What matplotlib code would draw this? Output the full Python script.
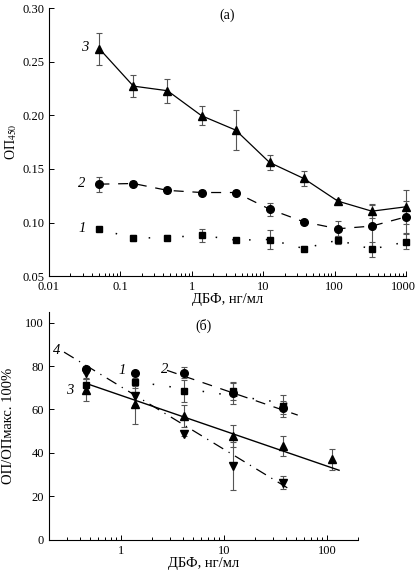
import numpy as np
import matplotlib
matplotlib.use('Agg')
import matplotlib.pyplot as plt
import matplotlib.transforms as mtransforms
from matplotlib.ticker import LogLocator, FixedLocator, FuncFormatter, NullFormatter

plt.rcParams['font.family'] = ['Liberation Serif', 'DejaVu Serif']
plt.rcParams['mathtext.fontset'] = 'stix'
plt.rcParams['font.size'] = 9

# --- панель (а): ОП450 ---
konc_a = [0.0508, 0.152, 0.457, 1.37, 4.12, 12.3, 37, 111, 333, 1000]
op_1 = [0.0938, 0.0855, 0.086, 0.0882, 0.0836, 0.0842, 0.0758, 0.0836, 0.0752, 0.082]
err_1 = [0.002, 0.003, 0.002, 0.006, 0.002, 0.009, 0.002, 0.004, 0.007, 0.007]
op_2 = [0.1358, 0.1364, 0.130, 0.128, 0.128, 0.1125, 0.1007, 0.0942, 0.0967, 0.1053]
err_2 = [0.007, 0.002, 0.002, 0.002, 0.002, 0.006, 0.002, 0.007, 0.021, 0.015]
op_3 = [0.262, 0.2272, 0.2229, 0.1996, 0.1862, 0.156, 0.1411, 0.120, 0.1106, 0.1147]
err_3 = [0.015, 0.010, 0.011, 0.009, 0.019, 0.007, 0.007, 0.002, 0.006, 0.016]

# --- панель (б): ОП/ОПмакс ---
konc_b = [0.457, 1.37, 4.12, 12.3, 37, 111]
proc_1 = [71.2, 72.7, 68.5, 68.4, 61.6]
perr_1 = [3, 2, 5, 4, 5]
proc_2 = [78.4, 77, 77, 67.6, 60.7]
perr_2 = [1.5, 0.5, 2.7, 5, 3]
proc_3 = [68.9, 62.4, 57, 47.8, 43.1, 37]
perr_3 = [5, 9, 5, 5, 4.5, 5]
proc_4 = [76.7, 66, 48.6, 33.9, 26.2]
perr_4 = [2, 4, 1, 11, 3]

# линии регрессии (концы)
fit_x1, fit_y1 = [1.4, 45], [72.7, 62.5]
fit_x2, fit_y2 = [2.8, 52], [78, 57.4]
fit_x3, fit_y3 = [0.457, 131], [72, 32]
fit_x4, fit_y4 = [0.28, 44.7], [86.4, 22.9]

ecol = '#555555'
fig = plt.figure(figsize=(4.17, 5.73), dpi=100)
ax1 = fig.add_axes([0.1175, 0.518, 0.856, 0.468])
ax2 = fig.add_axes([0.1175, 0.058, 0.741, 0.398])


def styl_os(ax):
    ax.spines['top'].set_visible(False)
    ax.spines['right'].set_visible(False)
    ax.tick_params(which='both', direction='in', width=0.7, labelsize=9)
    ax.tick_params(which='major', length=3.5)
    ax.tick_params(which='minor', length=2)
    for s in ('left', 'bottom'):
        ax.spines[s].set_linewidth(0.8)


def err_kw():
    return dict(ecolor=ecol, elinewidth=0.8, capsize=2.5, capthick=0.8, clip_on=False)


# (а)
ax1.errorbar(konc_a, op_1, yerr=err_1, fmt='s', color='black', ms=5, **err_kw())
ax1.plot(konc_a, op_1, color='black', lw=1.1, ls=(0, (1, 10)))
ax1.errorbar(konc_a, op_2, yerr=err_2, fmt='o', color='black', ms=5.5, **err_kw())
ax1.plot(konc_a, op_2, color='black', lw=0.9, ls=(0, (8, 7)))
ax1.errorbar(konc_a, op_3, yerr=err_3, fmt='^', color='black', ms=6, **err_kw())
ax1.plot(konc_a, op_3, color='black', lw=0.9)

ax1.set_xscale('log')
ax1.set_xlim(0.01, 1000)
ax1.set_ylim(0.05, 0.30)
ax1.set_yticks([0.05, 0.10, 0.15, 0.20, 0.25, 0.30])
ax1.yaxis.set_major_formatter(FuncFormatter(lambda v, p: f'{v:.2f}'))
ax1.xaxis.set_major_locator(LogLocator(base=10))
ax1.xaxis.set_minor_locator(LogLocator(base=10, subs=np.arange(2, 10)))
ax1.xaxis.set_major_formatter(FuncFormatter(lambda v, p: f'{v:g}'))
ax1.xaxis.set_minor_formatter(NullFormatter())
styl_os(ax1)
ax1.set_xlabel('ДБФ, нг/мл', fontsize=10.5, labelpad=0)
ax1.set_ylabel('ОП$_{450}$', fontsize=10)
ax1.yaxis.set_label_coords(-0.085, 0.5)
ax1.text(0.5, 1.0, '(а)', transform=ax1.transAxes, ha='center', va='top', fontsize=10)
for t, xx, yy in [('3', 0.032, 0.263), ('2', 0.029, 0.136), ('1', 0.029, 0.094)]:
    ax1.text(xx, yy, t, style='italic', fontsize=10.5, ha='center', va='center')

# подпись 1000 у самого края — чуть сдвинуть влево
fig.canvas.draw()
sdvig = mtransforms.ScaledTranslation(-3 / 100, 0, fig.dpi_scale_trans)
for t in ax1.get_xticklabels():
    if t.get_text() == '1000':
        t.set_transform(t.get_transform() + sdvig)

# (б)
ax2.errorbar(konc_b[:5], proc_1, yerr=perr_1, fmt='s', color='black', ms=5, **err_kw())
ax2.errorbar(konc_b[:5], proc_2, yerr=perr_2, fmt='o', color='black', ms=5.5, **err_kw())
ax2.errorbar(konc_b, proc_3, yerr=perr_3, fmt='^', color='black', ms=6, **err_kw())
ax2.errorbar(konc_b[:5], proc_4, yerr=perr_4, fmt='v', color='black', ms=6, **err_kw())
ax2.plot(fit_x1, fit_y1, color='black', lw=1.1, ls=(0, (1, 10)))
ax2.plot(fit_x2, fit_y2, color='black', lw=0.9, ls=(0, (8, 7)))
ax2.plot(fit_x3, fit_y3, color='black', lw=1.0)
ax2.plot(fit_x4, fit_y4, color='black', lw=0.9, ls=(0, (9, 5, 1, 5)))

ax2.set_xscale('log')
ax2.set_xlim(0.2, 200)
ax2.set_ylim(0, 105)
ax2.set_yticks([0, 20, 40, 60, 80, 100])
ax2.xaxis.set_major_locator(FixedLocator([1, 10, 100]))
ax2.xaxis.set_minor_locator(LogLocator(base=10, subs=np.arange(2, 10)))
ax2.xaxis.set_major_formatter(FuncFormatter(lambda v, p: f'{v:g}'))
ax2.xaxis.set_minor_formatter(NullFormatter())
styl_os(ax2)
ax2.set_xlabel('ДБФ, нг/мл', fontsize=10.5, labelpad=0)
ax2.set_ylabel('ОП/ОПмакс. 100%', fontsize=10.5)
ax2.yaxis.set_label_coords(-0.11, 0.5)
ax2.text(0.5, 0.97, '(б)', transform=ax2.transAxes, ha='center', va='top', fontsize=10)
for t, xx, yy in [('4', 0.235, 87.3), ('1', 1.03, 78), ('2', 2.63, 78.5), ('3', 0.315, 68.9)]:
    ax2.text(xx, yy, t, style='italic', fontsize=10.5, ha='center', va='center')

fig.savefig('out.png', dpi=100)
